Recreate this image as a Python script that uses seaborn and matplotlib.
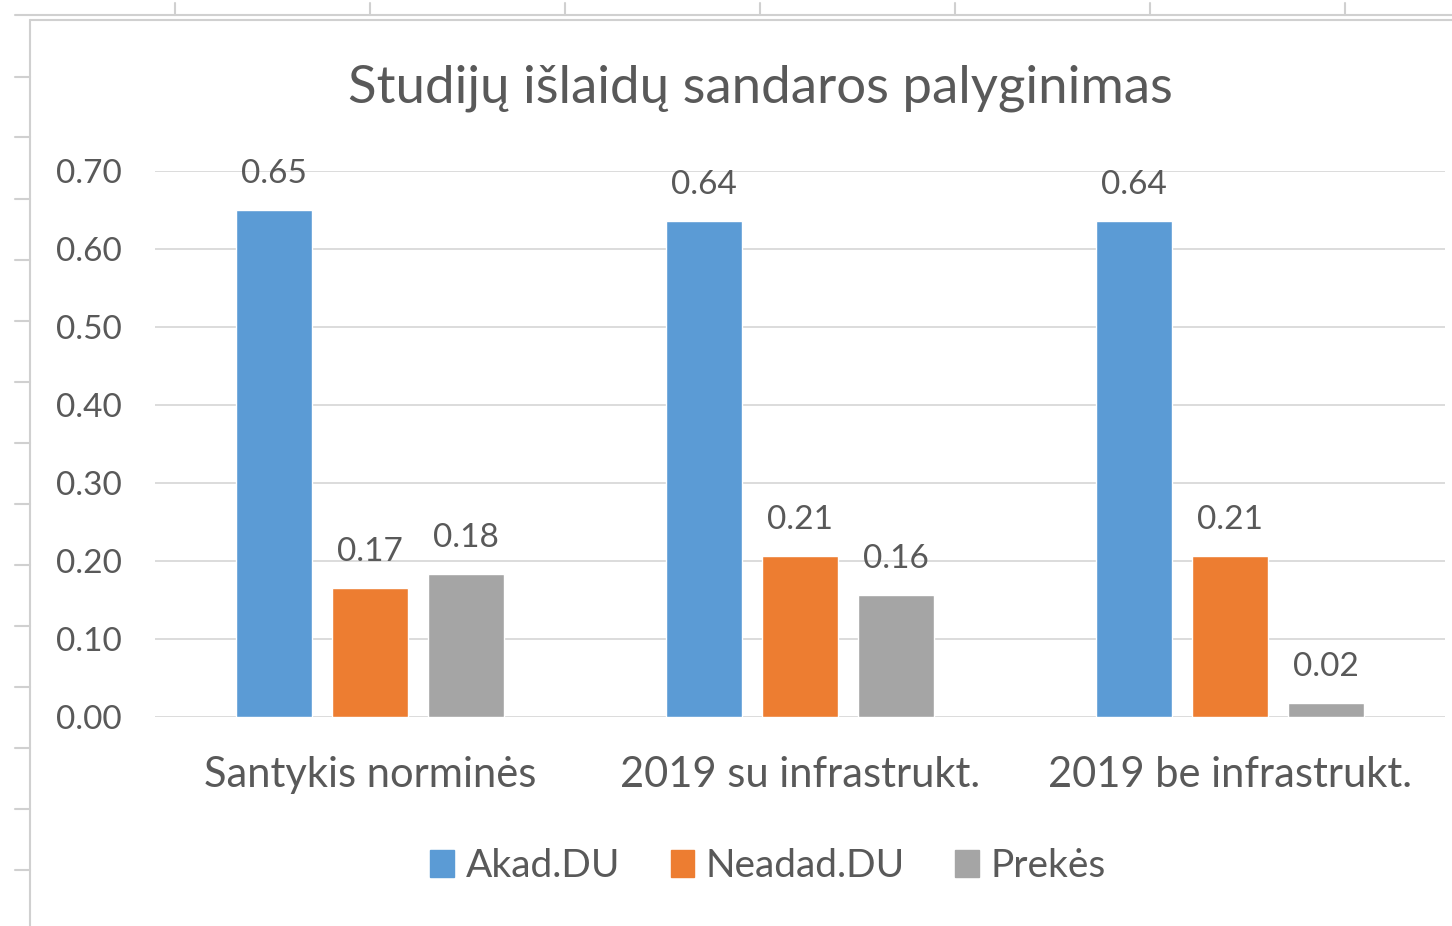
import numpy as np
import pandas as pd
import matplotlib
matplotlib.use("Agg")
import matplotlib.pyplot as plt
from matplotlib.lines import Line2D
import seaborn as sns

# Chart data
categories = ["Santykis norminės", "2019 su infrastrukt.", "2019 be infrastrukt."]
series = ["Akad.DU", "Neadad.DU", "Prekės"]
akad_du = [0.650, 0.636, 0.636]
neadad_du = [0.166, 0.207, 0.207]
prekes = [0.183, 0.156, 0.018]

COLORS = ["#5B9BD5", "#ED7D31", "#A5A5A5"]
TEXT = "#595959"
GRID = "#D9D9D9"

df = pd.DataFrame({
    "category": categories * 3,
    "series": [s for s in series for _ in categories],
    "value": akad_du + neadad_du + prekes,
})

sns.set_theme(style="white")
plt.rcParams["font.family"] = ["Lato", "DejaVu Sans"]

fig = plt.figure(figsize=(14.52, 9.26), dpi=100)
ax = fig.add_axes([155 / 1452, 1 - 717 / 926, (1445 - 155) / 1452, (717 - 171) / 926])

sns.barplot(data=df, x="category", y="value", hue="series", order=categories,
            hue_order=series, palette=COLORS, width=0.67, gap=0.2,
            saturation=1, ax=ax, legend=False)

for cont in ax.containers:
    ax.bar_label(cont, fmt="%.2f", padding=15, fontsize=24, color=TEXT)

ax.set_ylim(0, 0.70)
ax.set_yticks(np.arange(0, 0.71, 0.1))
ax.yaxis.set_major_formatter(matplotlib.ticker.FormatStrFormatter("%.2f"))
ax.set_xlim(-0.5, 2.5)
ax.grid(axis="y", color=GRID, linewidth=1.3)
ax.set_axisbelow(True)
for s in ax.spines.values():
    s.set_visible(False)
ax.tick_params(axis="y", length=0, pad=24, labelsize=24, labelcolor=TEXT)
ax.tick_params(axis="x", length=0, pad=28, labelsize=30, labelcolor=TEXT)
ax.set_xlabel("")
ax.set_ylabel("")

fig.text(760 / 1452, 1 - 88 / 926, "Studijų išlaidų sandaros palyginimas",
         ha="center", va="center", fontsize=38, color=TEXT)

handles = [matplotlib.patches.Patch(color=c, label=s) for c, s in zip(COLORS, series)]
fig.legend(handles=handles, loc="center", bbox_to_anchor=(768 / 1452, 1 - 866 / 926),
           ncol=3, frameon=False, fontsize=28, handlelength=0.6, handleheight=0.7,
           handletextpad=0.3, columnspacing=1.3, labelcolor=TEXT)

# spreadsheet frame around the chart
frame = dict(color="#D0D0D0", linewidth=1.5, transform=fig.transFigure)
fig.add_artist(Line2D([30 / 1452, 1], [1 - 20 / 926] * 2, **frame))
fig.add_artist(Line2D([30 / 1452] * 2, [0, 1 - 20 / 926], **frame))
fig.add_artist(Line2D([15 / 1452, 1], [1 - 15 / 926] * 2, **frame))
for x in [175, 370, 565, 760, 955, 1150, 1345]:
    fig.add_artist(Line2D([x / 1452] * 2, [1 - 15 / 926, 1 - 3 / 926], **frame))
for y in [77, 137, 199, 260, 321, 382, 443, 504, 565, 626, 687, 748, 809, 870]:
    fig.add_artist(Line2D([15 / 1452, 30 / 1452], [1 - y / 926] * 2, **frame))

fig.savefig("out.png", dpi=100, facecolor="white")
